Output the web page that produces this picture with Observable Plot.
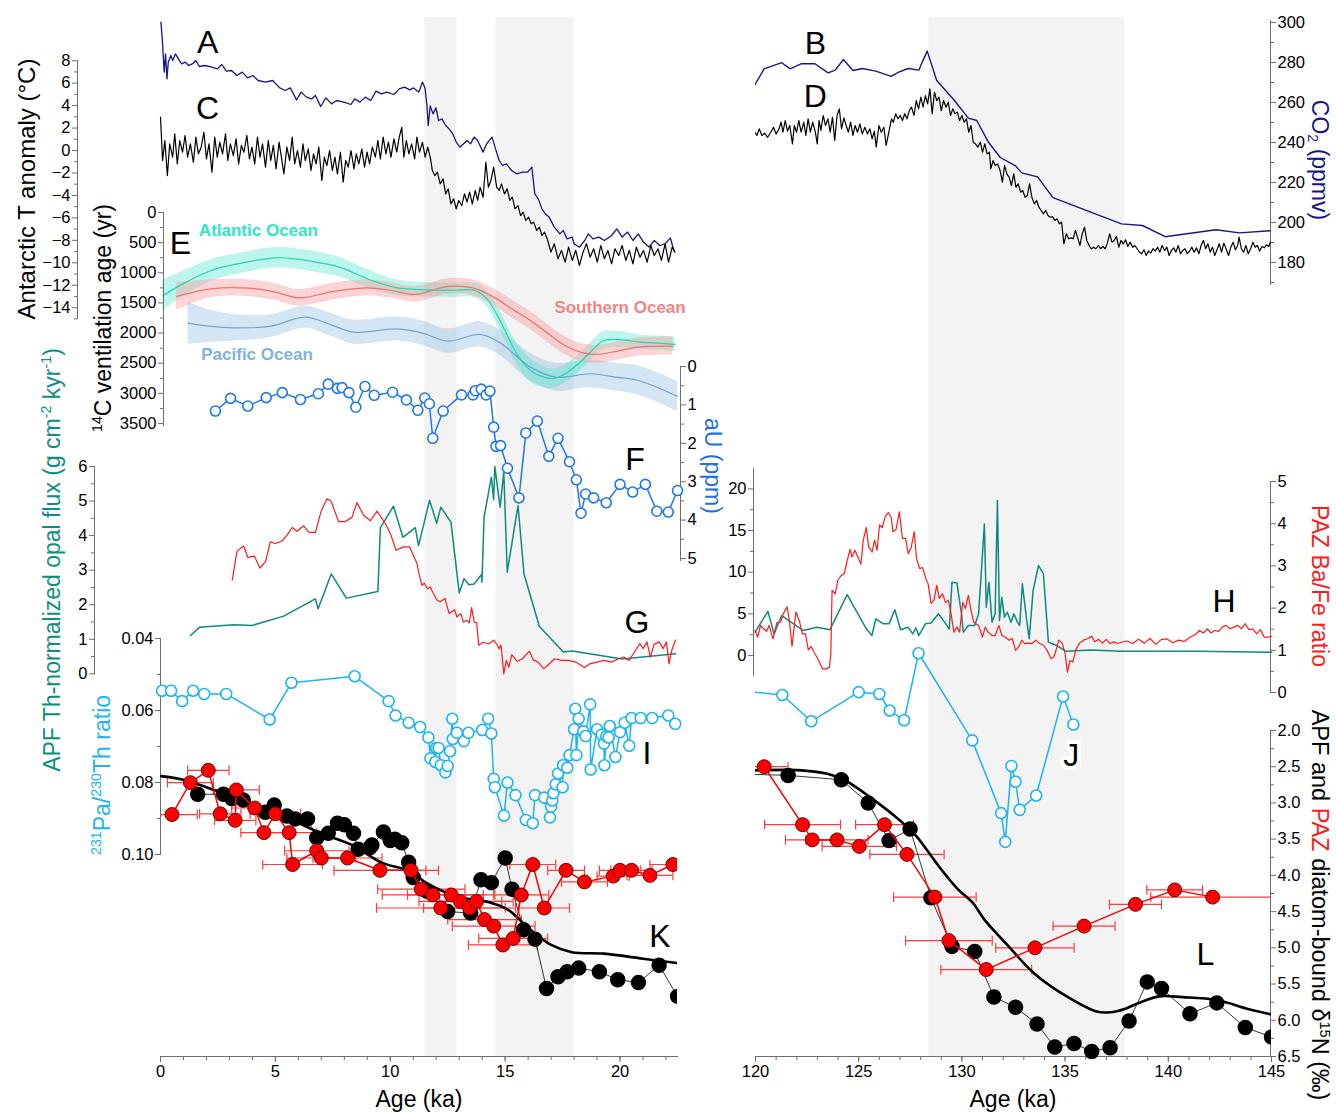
<!DOCTYPE html>
<html><head><meta charset="utf-8">
<script src="https://cdn.jsdelivr.net/npm/d3@7"></script>
<script src="https://cdn.jsdelivr.net/npm/@observablehq/plot@0.6"></script>
<style>
body{margin:0;background:#fff;font-family:"Liberation Sans",Arial,sans-serif;}
#fig{position:relative;width:1336px;height:1113px;overflow:hidden;background:#fff;}
#fig svg{position:absolute;left:0;top:0;}
.t{position:absolute;white-space:nowrap;line-height:1;}
.t sup{font-size:62%;vertical-align:0.6em;line-height:0;}
.t sub{font-size:62%;vertical-align:-0.25em;line-height:0;}
</style></head><body><div id="fig"></div>
<script>
// ---------------- DATA ----------------
const bandsLeft = [[11.5,12.9],[14.6,18.0]];
const bandsRight = [[128.4,137.9]];
// A: CO2 (ppmv), 0-22.5 ka
const co2Left = [[0.02,300.2],[0.09,289.3],[0.16,275.2],[0.22,284.3],[0.28,271.8],[0.34,280.2],[0.45,283.5],[0.53,281.0],[0.65,284.3],[0.78,281.8],[0.92,279.3],[1.07,280.2],[1.23,278.5],[1.38,279.3],[1.54,281.0],[1.69,278.0],[1.93,278.5],[2.24,277.7],[2.47,276.8],[2.67,279.0],[2.86,275.7],[3.09,276.0],[3.32,273.5],[3.56,275.2],[3.79,272.3],[4.02,273.5],[4.25,271.0],[4.57,270.2],[4.88,271.0],[5.19,267.3],[5.42,266.0],[5.65,267.3],[5.92,261.3],[6.12,265.2],[6.35,262.7],[6.58,261.8],[6.74,263.5],[6.97,258.0],[7.20,262.3],[7.44,259.3],[7.67,261.0],[7.98,260.2],[8.29,259.0],[8.45,261.8],[8.68,260.2],[8.91,262.7],[9.15,261.0],[9.38,265.7],[9.61,264.3],[9.84,265.2],[10.16,264.0],[10.39,266.8],[10.62,267.7],[10.85,266.3],[11.01,267.3],[11.24,265.2],[11.40,270.2],[11.51,267.3],[11.60,258.0],[11.65,248.5],[11.74,258.3],[11.86,254.3],[11.99,257.3],[12.10,251.0],[12.25,251.8],[12.41,248.5],[12.56,246.8],[12.72,244.3],[12.87,240.2],[13.03,237.7],[13.18,239.3],[13.34,241.0],[13.49,239.3],[13.65,242.7],[13.80,241.0],[14.04,235.2],[14.19,239.3],[14.43,242.7],[14.58,236.8],[14.74,231.0],[14.89,228.5],[15.05,229.3],[15.28,226.0],[15.51,224.3],[15.75,225.2],[15.98,225.2],[16.16,227.7],[16.29,214.3],[16.44,211.8],[16.60,206.8],[16.75,204.3],[16.91,202.7],[17.14,197.7],[17.38,194.3],[17.53,196.0],[17.69,191.8],[17.92,192.7],[18.00,189.3],[18.23,187.7],[18.46,191.0],[18.62,194.3],[18.82,191.8],[19.08,192.7],[19.32,191.0],[19.63,193.5],[19.86,196.8],[20.09,192.7],[20.33,195.2],[20.56,191.0],[20.79,194.3],[21.02,190.2],[21.26,187.7],[21.49,191.0],[21.72,188.5],[21.96,189.3],[22.19,192.3],[22.34,186.0]];
// B: CO2 (ppmv), 120-145 ka
const co2Right = [[119.87,270.6],[119.98,269.0],[120.42,276.8],[121.27,279.9],[121.68,276.8],[122.23,279.4],[122.88,279.4],[123.52,274.8],[123.86,276.2],[124.26,281.5],[124.72,276.0],[125.18,277.0],[125.83,275.7],[126.57,273.1],[126.94,275.2],[127.40,277.0],[127.92,276.2],[128.10,280.7],[128.32,285.7],[128.78,271.0],[129.61,261.4],[130.31,252.2],[130.72,251.0],[131.27,240.4],[131.86,232.5],[132.60,228.3],[132.90,224.8],[133.67,222.8],[134.41,212.4],[137.73,199.3],[138.75,198.5],[139.85,192.9],[142.31,196.4],[143.45,194.8],[144.93,195.9]];
// C: Antarctic T anomaly (degC), 0-22.5 ka
const tempLeft = [[0.00,2.97],[0.09,-0.89],[0.19,0.89],[0.30,-2.23],[0.40,0.59],[0.53,-0.59],[0.62,1.48],[0.73,-1.19],[0.84,0.89],[0.96,-0.15],[1.07,1.34],[1.18,-0.59],[1.30,0.59],[1.43,-1.04],[1.54,1.19],[1.65,-0.30],[1.77,0.30],[1.89,1.63],[2.00,-0.74],[2.11,0.59],[2.24,-1.93],[2.36,1.19],[2.47,-0.59],[2.58,0.74],[2.70,-0.30],[2.83,1.48],[2.93,-0.89],[3.04,0.59],[3.17,-0.45],[3.29,1.04],[3.40,-1.19],[3.52,0.45],[3.63,-0.15],[3.76,1.34],[3.87,-0.74],[3.98,0.30],[4.10,-1.19],[4.22,1.19],[4.33,-0.59],[4.44,0.59],[4.57,-1.48],[4.69,0.89],[4.80,-0.89],[4.91,0.45],[5.03,-1.63],[5.16,0.74],[5.26,-0.59],[5.37,-2.08],[5.50,0.30],[5.62,-0.89],[5.73,1.19],[5.84,-1.19],[5.96,0.00],[6.09,-1.48],[6.20,0.59],[6.30,-0.89],[6.43,0.15],[6.55,-1.78],[6.66,-0.30],[6.77,-1.19],[6.89,0.30],[7.02,-2.67],[7.13,-0.59],[7.24,-1.34],[7.36,0.00],[7.48,-1.78],[7.59,-0.59],[7.70,-2.08],[7.83,-0.15],[7.95,-2.82],[8.06,-0.89],[8.17,-1.48],[8.29,0.00],[8.42,-1.63],[8.52,-0.30],[8.63,-1.19],[8.76,0.15],[8.88,-1.48],[8.99,-0.15],[9.10,-1.19],[9.22,0.30],[9.35,-0.59],[9.46,0.89],[9.57,-0.74],[9.69,1.19],[9.81,-0.30],[9.92,0.74],[10.03,-0.59],[10.16,1.04],[10.28,-0.15],[10.39,1.19],[10.50,2.07],[10.59,-0.59],[10.70,0.89],[10.81,-0.30],[10.93,0.59],[11.06,-0.74],[11.16,1.19],[11.27,-0.15],[11.40,0.74],[11.52,-0.59],[11.63,0.30],[11.74,-0.59],[11.83,-1.78],[11.94,-2.23],[12.05,-1.93],[12.17,-2.97],[12.30,-2.53],[12.41,-3.86],[12.52,-3.42],[12.64,-4.75],[12.76,-4.30],[12.87,-5.19],[12.98,-4.45],[13.11,-4.90],[13.23,-3.86],[13.34,-4.60],[13.45,-3.71],[13.57,-4.75],[13.70,-3.56],[13.80,-4.45],[13.91,-3.27],[14.04,-4.16],[14.16,-1.04],[14.27,-3.27],[14.38,-2.67],[14.50,-1.48],[14.63,-3.27],[14.74,-3.56],[14.84,-2.97],[14.97,-3.86],[15.09,-3.42],[15.20,-4.45],[15.31,-4.16],[15.43,-5.19],[15.56,-4.90],[15.67,-5.79],[15.78,-5.49],[15.90,-6.23],[16.02,-5.94],[16.13,-6.53],[16.24,-6.38],[16.37,-7.12],[16.49,-6.83],[16.60,-7.57],[16.71,-7.27],[16.83,-7.86],[16.99,-9.05],[17.14,-8.31],[17.30,-9.64],[17.45,-8.90],[17.61,-9.94],[17.76,-8.61],[17.92,-9.79],[18.07,-8.90],[18.23,-10.24],[18.39,-9.05],[18.54,-8.31],[18.70,-9.50],[18.85,-8.75],[19.01,-9.94],[19.16,-8.46],[19.32,-9.64],[19.47,-8.90],[19.63,-10.09],[19.78,-8.75],[19.94,-9.35],[20.09,-8.46],[20.25,-9.79],[20.40,-8.90],[20.56,-10.09],[20.71,-8.61],[20.87,-9.50],[21.02,-8.90],[21.18,-9.94],[21.34,-8.46],[21.49,-9.35],[21.65,-8.75],[21.80,-9.79],[21.96,-8.31],[22.11,-9.94],[22.27,-8.61],[22.39,-9.05]];
// D: Antarctic T anomaly (degC), 120-145 ka
const tempRight = [[119.89,0.30],[119.96,1.63],[120.07,1.34],[120.18,1.93],[120.31,1.34],[120.44,1.54],[120.59,1.18],[120.74,1.63],[120.87,2.07],[121.00,1.48],[121.14,1.93],[121.24,2.52],[121.33,1.63],[121.44,2.67],[121.55,1.72],[121.66,2.23],[121.79,0.59],[121.88,2.23],[121.99,1.63],[122.10,2.67],[122.21,1.63],[122.34,2.52],[122.44,1.34],[122.55,2.82],[122.66,1.63],[122.77,2.52],[122.90,1.63],[122.99,0.59],[123.08,2.67],[123.17,1.78],[123.28,3.12],[123.39,2.23],[123.51,2.82],[123.62,1.63],[123.73,2.97],[123.84,0.89],[123.95,3.12],[124.06,3.71],[124.17,1.93],[124.28,2.91],[124.39,2.23],[124.50,1.63],[124.61,2.52],[124.72,1.34],[124.83,2.23],[124.94,1.63],[125.06,2.37],[125.17,1.48],[125.30,2.07],[125.42,1.48],[125.54,1.93],[125.65,1.04],[125.76,1.72],[125.85,0.30],[125.98,2.23],[126.09,1.63],[126.22,2.07],[126.33,0.45],[126.46,1.63],[126.59,2.82],[126.68,2.52],[126.79,3.27],[126.90,2.82],[127.01,3.12],[127.12,2.67],[127.23,3.27],[127.34,2.82],[127.45,3.56],[127.56,3.86],[127.68,3.12],[127.79,4.45],[127.90,3.71],[128.01,4.75],[128.12,3.86],[128.23,4.90],[128.34,4.16],[128.45,5.49],[128.56,3.27],[128.67,5.19],[128.78,4.45],[128.89,4.75],[129.00,3.56],[129.11,4.45],[129.23,3.86],[129.34,4.30],[129.45,3.12],[129.56,3.71],[129.67,3.27],[129.78,3.42],[129.89,2.67],[130.00,3.12],[130.11,2.52],[130.22,2.82],[130.33,1.63],[130.44,2.23],[130.55,0.74],[130.66,0.59],[130.77,0.30],[130.89,0.74],[131.00,-0.15],[131.11,0.59],[131.22,-0.30],[131.33,-0.15],[131.40,-1.63],[131.51,-0.89],[131.62,-1.34],[131.73,-1.19],[131.85,-1.78],[131.96,-2.82],[132.07,-1.34],[132.18,-2.08],[132.29,-2.38],[132.40,-3.12],[132.51,-2.08],[132.62,-3.27],[132.73,-2.97],[132.84,-3.71],[132.95,-3.56],[133.06,-4.16],[133.17,-4.01],[133.28,-2.97],[133.39,-4.16],[133.51,-4.75],[133.62,-4.45],[133.73,-5.05],[133.84,-5.34],[133.95,-5.64],[134.06,-5.34],[134.17,-5.79],[134.28,-5.94],[134.39,-5.89],[134.50,-6.23],[134.61,-6.08],[134.72,-6.53],[134.83,-6.38],[134.94,-8.31],[135.06,-7.42],[135.17,-7.86],[135.28,-7.78],[135.39,-7.86],[135.50,-7.12],[135.61,-7.78],[135.72,-8.46],[135.83,-7.42],[135.94,-6.83],[136.05,-8.01],[136.16,-8.46],[136.27,-8.75],[136.38,-8.61],[136.49,-8.75],[136.61,-8.46],[136.72,-8.75],[136.83,-8.55],[136.94,-8.75],[137.05,-8.25],[137.16,-7.42],[137.27,-8.16],[137.38,-8.01],[137.49,-7.66],[137.60,-8.61],[137.71,-8.01],[137.82,-8.31],[137.93,-7.95],[138.04,-8.55],[138.15,-8.16],[138.27,-8.61],[138.38,-8.46],[138.49,-8.75],[138.60,-9.05],[138.71,-9.20],[138.82,-8.84],[138.93,-9.35],[139.04,-8.96],[139.15,-9.14],[139.26,-8.75],[139.37,-8.96],[139.48,-8.61],[139.59,-9.05],[139.70,-8.46],[139.82,-8.90],[139.93,-8.61],[140.04,-9.35],[140.15,-8.90],[140.26,-8.67],[140.37,-9.05],[140.48,-8.46],[140.59,-9.20],[140.70,-8.90],[140.81,-8.75],[140.92,-9.20],[141.03,-8.96],[141.14,-8.61],[141.25,-9.05],[141.37,-8.67],[141.48,-9.20],[141.59,-8.46],[141.70,-8.01],[141.81,-8.75],[141.92,-8.31],[142.03,-9.05],[142.14,-8.61],[142.25,-9.35],[142.36,-8.84],[142.47,-8.31],[142.58,-9.05],[142.69,-8.25],[142.80,-8.75],[142.92,-9.35],[143.03,-8.61],[143.14,-8.16],[143.25,-8.84],[143.36,-8.46],[143.43,-7.72],[143.54,-8.75],[143.65,-9.05],[143.76,-8.46],[143.87,-9.20],[143.99,-8.75],[144.10,-8.16],[144.21,-8.61],[144.32,-8.46],[144.42,-8.96],[144.54,-8.55],[144.65,-8.67],[144.76,-8.40],[144.87,-8.55],[144.94,-8.16]];
// E: 14C ventilation age (yr): [age, mean, half-width]
const ventAtlantic = [[0.1,1380,250],[1.0,1180,210],[2.2,962,180],[3.5,840,170],[5.0,752,170],[5.9,770,170],[7.0,840,170],[7.8,907,160],[9.2,1128,150],[10.3,1249,130],[11.6,1283,120],[12.8,1290,120],[13.7,1294,120],[14.2,1430,130],[14.7,1736,150],[15.6,2400,180],[16.2,2650,190],[16.7,2731,170],[17.1,2757,160],[17.6,2680,150],[18.2,2505,150],[18.8,2280,150],[19.3,2123,150],[20.0,2110,130],[20.9,2150,120],[21.8,2170,120],[22.4,2189,120]];
const ventSouthern = [[0.7,1393,230],[2.2,1266,150],[3.8,1255,140],[5.0,1320,140],[6.0,1415,140],[7.6,1305,140],[9.0,1249,130],[10.0,1290,130],[11.1,1360,130],[12.5,1227,130],[13.6,1250,130],[14.5,1404,140],[15.3,1600,150],[16.1,1791,150],[17.6,2206,150],[18.3,2320,150],[19.0,2355,150],[20.0,2290,150],[20.8,2233,150],[22.3,2217,150]];
const ventPacific = [[1.2,1835,350],[2.0,1880,280],[3.2,1913,220],[4.8,1885,190],[6.3,1736,180],[7.4,1860,190],[8.4,1985,200],[10.3,1930,200],[11.4,2000,200],[12.5,2134,200],[13.9,2023,210],[14.8,2167,210],[16.1,2565,230],[17.2,2731,230],[18.7,2675,230],[19.8,2730,230],[20.8,2786,240],[22.5,3050,250]];
const oceanLabels = [["Atlantic Ocean",4.26,300,"#2ee6c5"],["Southern Ocean",20.0,1575,"#f48484"],["Pacific Ocean",4.2,2355,"#7fb2de"]];
// F: authigenic U (ppm)
const aU = [[2.39,1.16],[3.05,0.83],[3.8,1.03],[4.6,0.81],[5.3,0.68],[6.09,0.86],[6.87,0.71],[7.3,0.46],[7.7,0.57],[7.9,0.55],[8.2,0.68],[8.5,1.06],[8.9,0.52],[9.3,0.75],[10.1,0.67],[10.7,0.87],[11.2,1.14],[11.5,0.82],[11.7,0.97],[11.85,1.87],[12.3,1.16],[13.1,0.74],[13.6,0.74],[13.7,0.63],[13.96,0.59],[14.17,0.74],[14.34,0.64],[14.5,1.58],[14.6,2.08],[14.8,2.06],[15.1,2.65],[15.6,3.42],[15.9,1.73],[16.4,1.42],[16.9,2.34],[17.3,1.87],[17.8,2.48],[18.1,2.95],[18.3,3.82],[18.5,3.32],[18.85,3.42],[19.4,3.55],[20.0,3.07],[20.55,3.27],[21.1,3.07],[21.6,3.77],[22.1,3.79],[22.5,3.23]];
// G: APF opal flux (left) and PAZ Ba/Fe (left)
const opalLeft = [[1.30,1.11],[1.71,1.35],[3.19,1.42],[3.99,1.40],[5.36,1.67],[6.74,2.17],[6.86,1.88],[7.43,2.89],[8.09,2.19],[9.46,2.38],[9.57,4.23],[10.14,4.85],[10.55,3.95],[11.09,4.23],[11.23,3.71],[11.71,5.02],[12.02,4.36],[12.2,4.82],[12.64,4.39],[13.0,2.34],[13.21,2.75],[13.42,2.58],[13.65,2.60],[13.96,2.87],[13.99,2.65],[14.08,4.53],[14.4,5.69],[14.5,5.04],[14.55,6.0],[14.78,4.82],[14.94,5.84],[15.09,2.94],[15.56,4.87],[15.82,2.89],[16.49,1.37],[17.53,0.63],[17.92,0.66],[20.09,0.43],[22.42,0.58]];
const baFeLeft = [[3.12,2.66],[3.33,3.35],[3.62,3.47],[3.8,3.20],[4.09,3.23],[4.32,2.95],[4.57,3.10],[4.78,3.57],[5.0,3.53],[5.29,3.59],[5.51,3.73],[5.73,3.91],[5.94,3.82],[6.23,3.95],[6.45,3.80],[6.74,3.79],[6.99,4.30],[7.25,4.59],[7.42,4.54],[7.75,4.05],[8.04,4.05],[8.33,4.15],[8.55,4.50],[8.84,4.20],[9.13,4.07],[9.42,4.30],[9.78,4.01],[10.03,3.73],[10.25,3.37],[10.58,3.45],[10.84,3.45],[11.16,3.06],[11.23,2.86],[11.38,2.54],[11.48,2.59],[11.62,2.46],[11.74,2.50],[11.88,2.34],[12.03,2.19],[12.17,2.15],[12.38,2.23],[12.54,1.91],[12.57,1.87],[12.8,1.96],[12.9,1.79],[13.07,1.87],[13.18,1.67],[13.33,1.71],[13.44,1.65],[13.54,2.01],[13.65,1.67],[13.76,1.65],[13.85,1.12],[14.04,1.19],[14.28,1.15],[14.5,1.24],[14.66,1.12],[14.74,1.04],[14.82,1.12],[14.94,0.44],[15.05,0.76],[15.16,0.60],[15.29,0.90],[15.52,0.74],[15.75,0.80],[16.06,0.98],[16.21,0.78],[16.44,0.72],[16.68,0.56],[16.84,0.64],[17.15,0.80],[17.45,0.76],[17.76,0.76],[18.07,0.72],[18.45,0.59],[18.69,0.68],[19.0,0.72],[19.3,0.76],[19.62,0.72],[19.93,0.80],[20.16,0.84],[20.39,0.76],[20.63,0.96],[20.86,1.16],[21.01,1.04],[21.17,1.20],[21.32,0.84],[21.48,1.14],[21.71,1.20],[21.87,1.04],[22.02,1.20],[22.13,0.68],[22.26,1.02],[22.41,1.24]];
// H: opal flux (right) and PAZ Ba/Fe (right)
const opalRight = [[119.98,2.8],[120.6,5.3],[120.9,2.6],[121.27,4.8],[122.32,3.0],[122.96,3.4],[123.61,3.1],[124.44,7.3],[125.37,3.2],[125.64,2.4],[125.83,4.4],[126.19,3.8],[126.47,3.8],[126.75,5.5],[127.03,3.1],[127.39,3.4],[127.62,2.6],[127.77,3.3],[127.91,2.4],[128.23,3.8],[128.5,3.9],[128.87,5.0],[129.39,3.2],[129.52,8.8],[129.76,8.7],[129.98,5.0],[130.07,2.8],[130.31,3.6],[130.62,3.6],[130.81,5.0],[131.09,15.8],[131.18,5.8],[131.31,8.8],[131.46,4.0],[131.61,5.0],[131.72,18.6],[131.82,4.2],[131.93,7.0],[132.06,4.6],[132.2,5.2],[132.38,4.0],[132.52,5.0],[132.69,4.0],[132.8,3.6],[132.93,8.6],[133.12,4.6],[133.26,2.0],[133.45,7.8],[133.71,10.8],[133.95,9.8],[134.19,1.6],[134.59,1.2],[135.05,0.5],[136.25,0.65],[137.73,0.5],[141.42,0.5],[145.0,0.4]];
const baFeRight = [[119.98,1.47],[120.11,1.31],[120.24,1.59],[120.39,1.51],[120.54,1.45],[120.66,1.59],[120.85,1.27],[121.03,1.65],[121.22,1.67],[121.35,1.87],[121.53,2.03],[121.64,1.71],[121.77,1.10],[121.96,1.91],[122.14,1.67],[122.27,1.39],[122.42,1.39],[122.56,1.01],[122.69,1.09],[122.88,0.92],[123.06,0.76],[123.25,0.56],[123.43,0.56],[123.58,0.60],[123.65,0.92],[123.71,2.42],[123.86,2.34],[123.99,2.66],[124.13,2.76],[124.3,2.82],[124.45,3.14],[124.58,3.39],[124.67,3.21],[124.82,3.37],[124.96,3.21],[125.11,3.04],[125.22,3.61],[125.37,3.91],[125.48,3.45],[125.65,3.33],[125.77,3.61],[125.89,3.37],[126.01,3.97],[126.14,3.91],[126.29,4.18],[126.44,4.26],[126.57,4.16],[126.66,3.81],[126.81,3.86],[126.97,4.28],[127.12,3.65],[127.27,3.65],[127.4,3.29],[127.55,3.45],[127.69,3.81],[127.8,3.18],[127.95,2.94],[128.1,2.96],[128.25,2.70],[128.36,2.58],[128.51,2.11],[128.65,2.19],[128.78,2.54],[128.91,2.23],[129.06,2.34],[129.21,2.13],[129.34,2.19],[129.46,1.91],[129.61,1.43],[129.76,1.55],[129.89,1.43],[130.04,2.14],[130.17,1.99],[130.31,2.30],[130.44,1.95],[130.57,1.67],[130.68,1.63],[130.81,1.59],[131.0,1.31],[131.13,1.55],[131.27,1.43],[131.46,1.35],[131.61,1.35],[131.79,1.59],[131.94,1.35],[132.1,1.31],[132.29,1.24],[132.44,1.28],[132.6,1.0],[132.75,1.08],[132.9,1.24],[133.04,1.16],[133.21,1.17],[133.39,1.16],[133.58,1.24],[133.76,1.16],[133.95,1.12],[134.13,1.0],[134.32,0.80],[134.45,0.84],[134.56,1.0],[134.69,1.24],[134.87,1.16],[135.0,0.92],[135.11,0.48],[135.24,0.76],[135.37,0.72],[135.52,1.01],[135.7,1.17],[135.89,1.24],[136.11,1.28],[136.29,1.33],[136.44,1.20],[136.62,1.26],[136.81,1.17],[136.99,1.26],[137.18,1.16],[137.36,1.20],[137.55,1.16],[137.73,1.19],[138.01,1.22],[138.28,1.16],[138.56,1.26],[138.84,1.17],[139.11,1.28],[139.39,1.14],[139.67,1.26],[139.94,1.27],[140.22,1.18],[140.5,1.24],[140.77,1.21],[141.05,1.31],[141.33,1.38],[141.51,1.47],[141.7,1.41],[141.88,1.51],[142.07,1.41],[142.25,1.47],[142.44,1.45],[142.62,1.55],[142.8,1.59],[142.99,1.51],[143.17,1.55],[143.36,1.59],[143.54,1.51],[143.73,1.63],[143.91,1.49],[144.1,1.51],[144.28,1.39],[144.46,1.49],[144.65,1.31],[144.83,1.31],[145.0,1.33]];
// I, J: 231Pa/230Th
const paThLeft = [[0.07,0.0545],[0.46,0.0545],[0.94,0.0574],[1.42,0.0545],[1.9,0.0554],[2.86,0.0554],[4.75,0.0625],[5.7,0.0523],[8.45,0.0505],[9.93,0.0574],[10.23,0.0614],[10.8,0.0634],[11.3,0.0646],[11.66,0.0675],[11.75,0.0733],[11.96,0.0743],[12.0,0.0704],[12.1,0.0704],[12.2,0.0752],[12.4,0.0772],[12.5,0.0754],[12.6,0.0713],[12.7,0.0623],[12.72,0.0679],[12.9,0.0662],[13.2,0.0685],[13.4,0.0662],[14.0,0.0654],[14.26,0.0623],[14.4,0.0664],[14.5,0.0790],[14.55,0.0813],[14.95,0.0892],[15.1,0.0800],[15.45,0.0835],[15.9,0.0904],[16.2,0.0913],[16.3,0.0835],[16.7,0.0842],[16.95,0.0897],[17.0,0.0867],[17.05,0.0850],[17.1,0.0830],[17.2,0.0805],[17.3,0.0775],[17.5,0.0813],[17.52,0.0752],[17.7,0.0759],[17.8,0.0724],[18.0,0.0652],[18.05,0.0595],[18.1,0.0724],[18.2,0.0623],[18.4,0.0658],[18.5,0.0671],[18.7,0.0583],[18.72,0.0764],[19.0,0.0652],[19.2,0.0667],[19.3,0.0692],[19.32,0.0752],[19.4,0.0672],[19.5,0.0675],[19.55,0.0643],[19.8,0.0729],[20.0,0.0660],[20.2,0.0634],[20.4,0.0698],[20.5,0.0621],[20.9,0.0621],[21.4,0.0621],[22.1,0.0614],[22.4,0.0637]];
const paThRight = [[119.3,0.0545],[121.3,0.0557],[122.7,0.0630],[125.0,0.0549],[126.0,0.0554],[126.5,0.0600],[127.2,0.0627],[127.9,0.0441],[130.5,0.0683],[131.9,0.0885],[132.1,0.0965],[132.4,0.0754],[132.6,0.0798],[132.8,0.0876],[133.6,0.0836],[134.9,0.0561],[135.4,0.0639]];
// K, L: diatom-bound d15N (permil)
const apfN15Left = [[1.62,2.88],[2.74,2.88],[3.1,2.94],[3.6,2.96],[4.56,3.13],[4.95,3.03],[5.5,3.18],[5.86,3.22],[6.4,3.22],[6.8,3.48],[7.3,3.42],[7.7,3.28],[8.0,3.30],[8.4,3.42],[8.6,3.64],[9.1,3.62],[9.2,3.58],[9.7,3.40],[10.0,3.52],[10.2,3.50],[10.5,3.55],[10.8,3.82],[11.0,4.03],[11.6,4.22],[12.5,4.50],[13.5,4.52],[13.95,4.06],[14.4,4.10],[15.0,3.76],[15.3,4.19],[15.8,4.75],[16.3,4.88],[16.8,5.56],[17.3,5.40],[17.7,5.33],[18.2,5.28],[19.1,5.33],[19.9,5.44],[20.8,5.48],[21.7,5.24],[22.5,5.67]];
const pazN15Left = [[0.5,3.16,1.1],[1.3,2.72,1.0],[2.08,2.55,0.9],[2.6,3.15,0.9],[3.25,3.24,0.9],[3.3,2.82,1.0],[4.1,3.07,1.0],[4.5,3.41,1.0],[5.0,3.15,1.1],[5.6,3.41,1.2],[5.75,3.85,1.3],[6.8,3.66,1.4],[7.0,3.76,1.5],[8.14,3.76,1.5],[9.55,3.93,2.0],[10.9,3.93,1.2],[11.35,4.19,1.9],[11.85,4.27,2.2],[12.2,4.45,2.8],[12.65,4.27,1.9],[13.05,4.36,1.8],[13.45,4.45,2.0],[13.75,4.36,1.6],[14.1,4.61,1.6],[14.5,4.70,1.8],[14.9,4.96,1.5],[15.35,4.87,1.5],[15.7,4.27,1.2],[16.2,3.85,1.0],[16.7,4.45,1.1],[17.65,3.93,0.8],[18.45,4.09,1.0],[19.7,4.01,0.7],[20.0,3.93,0.9],[20.5,3.93,0.9],[21.3,4.00,1.0],[22.3,3.85,1.0]];
const smoothN15Left = [[0,2.63],[1.0,2.68],[2.24,2.81],[3.5,2.95],[5.3,3.18],[7.0,3.42],[8.4,3.59],[9.6,3.82],[10.9,3.95],[11.55,4.10],[12.3,4.22],[13.1,4.31],[14.3,4.37],[15.1,4.47],[16.1,4.75],[17.0,4.96],[17.9,5.06],[19.3,5.08],[21.0,5.15],[22.5,5.21]];
const apfN15Right = [[119.3,2.60],[121.58,2.62],[124.16,2.68],[125.46,3.00],[126.47,3.52],[127.49,3.36],[128.5,4.31],[129.52,4.98],[130.62,5.05],[131.55,5.68],[132.6,5.82],[133.64,6.05],[134.5,6.37],[135.43,6.32],[136.29,6.43],[137.18,6.38],[138.1,6.01],[138.98,5.47],[139.67,5.56],[141.05,5.91],[142.35,5.76],[143.73,6.10],[145.0,6.23]];
const pazN15Right = [[120.42,2.50,1.16],[122.28,3.30,1.84],[122.75,3.51,1.3],[123.95,3.51,1.5],[125.03,3.60,1.8],[126.25,3.30,1.4],[127.34,3.71,1.8],[128.69,4.30,2.0],[129.37,4.90,2.1],[131.18,5.30,2.2],[133.54,5.00,1.9],[135.92,4.70,1.5],[138.41,4.40,1.26],[140.31,4.20,1.35],[142.15,4.30,3.0]];
const smoothN15Right = [[119.98,2.55],[122.22,2.55],[123.52,2.60],[124.35,2.69],[125.55,2.92],[127.03,3.25],[127.77,3.45],[128.87,3.87],[129.8,4.19],[130.53,4.38],[131.09,4.61],[132.2,4.96],[133.49,5.35],[134.96,5.65],[136.53,5.88],[137.18,5.89],[137.92,5.84],[138.66,5.75],[139.57,5.67],[140.68,5.68],[142.35,5.72],[143.82,5.84],[145.0,5.92]];
// tick values
const ticksAgeLeft = [0,5,10,15,20], ticksAgeRight = [120,125,130,135,140,145];
const ticksT = [-14,-12,-10,-8,-6,-4,-2,0,2,4,6,8];
const ticksVent = [0,500,1000,1500,2000,2500,3000,3500];
const ticksOpalL = [0,1,2,3,4,5,6], ticksOpalR = [0,5,10,15,20];
const ticksPaTh = [0.04,0.06,0.08,0.10];
const ticksAU = [0,1,2,3,4,5], ticksBaFe = [0,1,2,3,4,5];
const ticksN15 = [2.0,2.5,3.0,3.5,4.0,4.5,5.0,5.5,6.0,6.5];
const ticksCO2 = [180,200,220,240,260,280,300];

// ---------------- DRAWING ----------------
const W = 1336, H = 1113;
const fig = document.getElementById("fig");
const FONT = '"Liberation Sans", Arial, sans-serif';
const AXC = "#6e6e6e";
const TICKFS = 16.5;
const range = (a, b, s) => d3.range(a, b + s / 2, s);
const minor = (ticks) => ticks.slice(1).map((t, i) => (t + ticks[i]) / 2);

function layer(frame, scales, marks) {
  const [l, t, r, b] = frame;
  const o = {width: W, height: H, marginLeft: l, marginTop: t, marginRight: W - r, marginBottom: H - b,
    style: {background: "transparent", fontFamily: FONT, fontSize: TICKFS + "px", color: "#000", overflow: "visible"}, marks};
  if (scales.x) o.x = Object.assign({}, scales.x);
  if (scales.y) o.y = Object.assign({}, scales.y);
  fig.appendChild(Plot.plot(o));
}
const xL = {domain: [0, 22.5], range: [160, 677], axis: null};
const xR = {domain: [120, 145], range: [755, 1271], axis: null};
const FL = [160, 0, 677, H], FR = [755, 0, 1271, H];
const sCO2 = {domain: [170, 300], range: [282, 22], axis: null};
const sT = {domain: [-14, 8], range: [307.2, 60.2], axis: null};
const sVent = {domain: [0, 3500], range: [212, 423], axis: null};
const sAU = {domain: [0, 5], range: [366, 558], axis: null};
const sOpalL = {domain: [0, 6], range: [673.3, 466], axis: null};
const sOpalR = {domain: [0, 20], range: [655, 488.4], axis: null};
const sBaFe = {domain: [0, 5], range: [692, 481], axis: null};
const sPaTh = {domain: [0.04, 0.10], range: [638, 854], axis: null};
const sN15 = {domain: [2, 6.5], range: [730, 1056], axis: null};
const fmtMinus = d => d < 0 ? "\u2212" + (-d) : String(d);

function yAxis(x0, top, bottom, anchor, sc, major, minorTicks, fmt) {
  const fr = anchor === "left" ? [x0, top, W, bottom] : [0, top, x0, bottom];
  layer(fr, {y: {domain: sc.domain, range: sc.range}}, [
    Plot.frame({anchor, stroke: AXC}),
    Plot.axisY(minorTicks, {anchor, tickSize: 3, tickFormat: () => "", stroke: AXC, label: null}),
    Plot.axisY(major, {anchor, tickSize: 5, tickPadding: 2, tickFormat: fmt, stroke: AXC, label: null, fontSize: TICKFS})
  ]);
}
function xAxis(sc, major, minorTicks) {
  layer([sc.range[0], 0, sc.range[1], 1056], {x: {domain: sc.domain, range: sc.range}}, [
    Plot.frame({anchor: "bottom", stroke: AXC}),
    Plot.axisX(minorTicks, {anchor: "bottom", tickSize: 4, tickFormat: () => "", stroke: AXC, label: null}),
    Plot.axisX(major, {anchor: "bottom", tickSize: 6, tickPadding: 3, stroke: AXC, label: null, fontSize: TICKFS})
  ]);
}
const letter = (t, a, v, extra) => Plot.text([t], Object.assign({x: [a], y: [v], fontSize: 32, fill: "#000"}, extra || {}));
const capSymbol = {draw(ctx, size) { const h = Math.sqrt(size) / 2; ctx.moveTo(0, -h); ctx.lineTo(0, h); }};
const P = {x: d => d[0], y: d => d[1]};

// grey intervals
layer([160, 17, 677, 1056], {x: xL}, [Plot.rect(bandsLeft, {x1: d => d[0], x2: d => d[1], fill: "#f3f3f3"})]);
layer([755, 17, 1271, 1056], {x: xR}, [Plot.rect(bandsRight, {x1: d => d[0], x2: d => d[1], fill: "#f3f3f3"})]);

// E: ventilation ages
const band = (data, fill, op) => Plot.areaY(data, {x: d => d[0], y1: d => d[1] - d[2], y2: d => d[1] + d[2], fill, fillOpacity: op, curve: "catmull-rom"});
const vline = (data, stroke) => Plot.line(data, {x: d => d[0], y: d => d[1], stroke, strokeWidth: 1.2, curve: "catmull-rom"});
layer(FL, {x: xL, y: sVent}, [
  band(ventPacific, "#8dbbe0", 0.38), band(ventAtlantic, "#4fe6cb", 0.38), band(ventSouthern, "#f59a9a", 0.42),
  vline(ventPacific, "#6fa6d6"), vline(ventAtlantic, "#1fd8b4"), vline(ventSouthern, "#f26f6f"),
  Plot.text(oceanLabels, {x: d => d[1], y: d => d[2], text: d => d[0], fill: d => d[3], fontSize: 17, fontWeight: "bold"}),
  letter("E", 0.87, 514)
]);

// axes
yAxis(77, 60, 318, "left", sT, ticksT, range(-15, 7, 2), fmtMinus);
yAxis(163, 212, 425, "left", sVent, ticksVent, range(250, 3250, 500), d => String(d));
yAxis(94, 466, 673.3, "left", sOpalL, ticksOpalL, minor(ticksOpalL), d => String(d));
yAxis(160, 638, 854, "left", sPaTh, ticksPaTh, [0.05, 0.07, 0.09], d => d.toFixed(2));
yAxis(680, 366, 560, "right", sAU, ticksAU, minor(ticksAU), d => String(d));
yAxis(753, 468, 675, "left", sOpalR, ticksOpalR, minor(ticksOpalR), d => String(d));
yAxis(1270, 20, 284, "right", sCO2, ticksCO2, range(170, 290, 20), d => String(d));
yAxis(1270, 481, 692, "right", sBaFe, ticksBaFe, minor(ticksBaFe), d => String(d));
yAxis(1270, 730, 1056, "right", sN15, ticksN15, minor(ticksN15), d => d.toFixed(1));
xAxis(xL, ticksAgeLeft, range(0, 22, 1));
xAxis(xR, ticksAgeRight, range(120, 145, 1));

// A, B: CO2
layer(FL, {x: xL, y: sCO2}, [Plot.line(co2Left, {...P, stroke: "#16168a", strokeWidth: 1.3}), letter("A", 2.05, 290)]);
layer(FR, {x: xR, y: sCO2}, [Plot.line(co2Right, {...P, stroke: "#16168a", strokeWidth: 1.4, clip: true}), letter("B", 122.9, 289.5)]);
// C, D: temperature
layer(FL, {x: xL, y: sT}, [Plot.line(tempLeft, {...P, stroke: "#000", strokeWidth: 1.2}), letter("C", 2.05, 3.7)]);
layer(FR, {x: xR, y: sT}, [Plot.line(tempRight, {...P, stroke: "#000", strokeWidth: 1.2, clip: true}), letter("D", 122.9, 4.8)]);
// F: aU
layer(FL, {x: xL, y: sAU}, [
  Plot.line(aU, {...P, stroke: "#1f78e6", strokeWidth: 1.5}),
  Plot.dot(aU, {...P, r: 5, stroke: "#1f78e6", fill: "white", strokeWidth: 1.6}),
  letter("F", 20.65, 2.42)
]);
// G: opal flux + Ba/Fe (left)
layer(FL, {x: xL, y: sOpalL}, [Plot.line(opalLeft, {...P, stroke: "#0e8a7e", strokeWidth: 1.5})]);
layer(FL, {x: xL, y: sBaFe}, [Plot.line(baFeLeft, {...P, stroke: "#ff1a1a", strokeWidth: 1.2}), letter("G", 20.74, 1.66)]);
// H: opal flux + Ba/Fe (right)
layer(FR, {x: xR, y: sOpalR}, [Plot.line(opalRight, {...P, stroke: "#0e8a7e", strokeWidth: 1.5})]);
layer(FR, {x: xR, y: sBaFe}, [Plot.line(baFeRight, {...P, stroke: "#ff1a1a", strokeWidth: 1.2}), letter("H", 142.7, 2.14)]);
// I, J: Pa/Th
layer(FL, {x: xL, y: sPaTh}, [
  Plot.line(paThLeft, {...P, stroke: "#1cb4f2", strokeWidth: 1.5}),
  Plot.dot(paThLeft, {...P, r: 5.5, stroke: "#1cb4f2", fill: "white", strokeWidth: 1.6}),
  letter("I", 21.17, 0.0719)
]);
layer(FR, {x: xR, y: sPaTh}, [
  Plot.line(paThRight, {...P, stroke: "#1cb4f2", strokeWidth: 1.5, clip: true}),
  Plot.dot(paThRight, {...P, r: 5.5, stroke: "#1cb4f2", fill: "white", strokeWidth: 1.6, clip: true}),
  letter("J", 135.3, 0.0725, {stroke: "white", strokeWidth: 8})
]);
// K, L: d15N
function n15Marks(black, red, smooth) {
  return [
    Plot.ruleY(red, {y: d => d[1], x1: d => d[0] - d[2], x2: d => d[0] + d[2], stroke: "#ff3b3b", strokeWidth: 1.2, clip: true}),
    Plot.dot(red, {x: d => d[0] - d[2], y: d => d[1], symbol: capSymbol, r: 5.5, stroke: "#ff3b3b", strokeWidth: 1.2, clip: true}),
    Plot.dot(red, {x: d => d[0] + d[2], y: d => d[1], symbol: capSymbol, r: 5.5, stroke: "#ff3b3b", strokeWidth: 1.2, clip: true}),
    Plot.line(black, {...P, stroke: "#000", strokeWidth: 0.8, clip: true}),
    Plot.dot(black, {...P, r: 7, fill: "#000", stroke: "#000", clip: true}),
    Plot.line(smooth, {...P, stroke: "#000", strokeWidth: 2.6, curve: "catmull-rom", clip: true}),
    Plot.line(red, {...P, stroke: "#ff0000", strokeWidth: 1.5, clip: true}),
    Plot.dot(red, {...P, r: 7, fill: "#ff0000", stroke: "#5a0000", strokeWidth: 0.9, clip: true})
  ];
}
layer(FL, {x: xL, y: sN15}, [...n15Marks(apfN15Left, pazN15Left, smoothN15Left), letter("K", 21.74, 4.85)]);
layer(FR, {x: xR, y: sN15}, [...n15Marks(apfN15Right, pazN15Right, smoothN15Right), letter("L", 141.8, 5.1)]);

// axis titles
const titles = [
  ["Antarctic T anomaly (°C)", 27, 189, -90, "#000", 24],
  ["<sup>14</sup>C ventilation age (yr)", 103, 318, -90, "#000", 23],
  ["APF Th-normalized opal flux (g cm<sup>-2</sup> kyr<sup>-1</sup>)", 52, 560, -90, "#0b8f80", 23],
  ["<sup>231</sup>Pa/<sup>230</sup>Th ratio", 102, 775, -90, "#1cb4f2", 23],
  ["aU (ppm)", 712, 466, 90, "#1e6fe0", 23],
  ["CO<sub>2</sub> (ppmv)", 1319, 160, 90, "#16168a", 23],
  ["PAZ Ba/Fe ratio", 1319, 586, 90, "#ff1a1a", 23],
  ['APF and <span style="color:#ff1a1a">PAZ</span> diatom-bound \u03b4<sup>15</sup>N (\u2030)', 1319, 905, 90, "#000", 23.5],
  ["Age (ka)", 419, 1099, 0, "#000", 23],
  ["Age (ka)", 1013, 1099, 0, "#000", 23]
];
for (const [html, x, y, rot, color, fs] of titles) {
  const d = document.createElement("div");
  d.className = "t"; d.innerHTML = html;
  d.style.left = x + "px"; d.style.top = y + "px"; d.style.color = color;
  d.style.fontSize = fs + "px";
  d.style.transform = `translate(-50%,-50%) rotate(${rot}deg)`;
  fig.appendChild(d);
}
</script></body></html>
